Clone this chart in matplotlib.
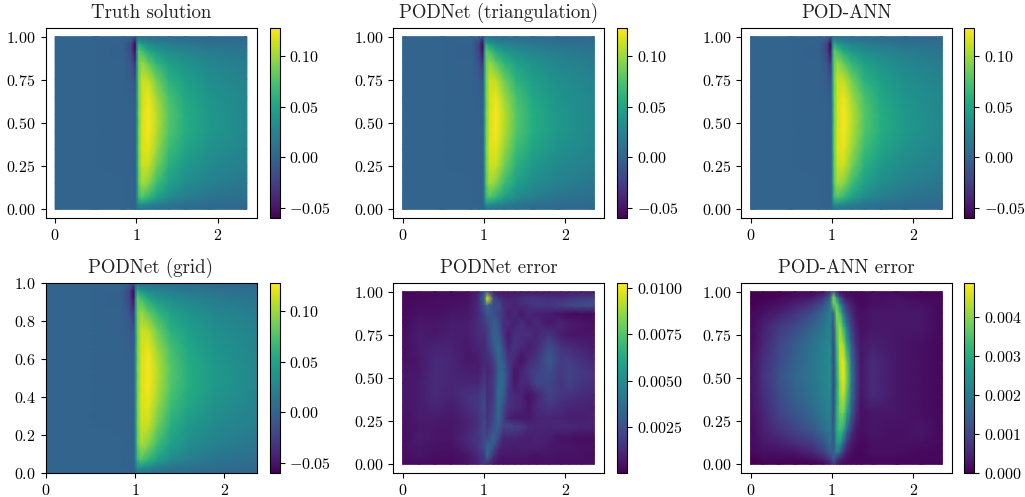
import numpy as np
import matplotlib
matplotlib.use("Agg")
import matplotlib.pyplot as plt

plt.rcParams["font.family"] = ["cmr10", "DejaVu Serif"]
plt.rcParams["mathtext.fontset"] = "cm"
plt.rcParams["axes.formatter.use_mathtext"] = True
plt.rcParams["axes.unicode_minus"] = False

# solution field
sol_x = [0, 0.5, 0.85, 0.94, 0.985, 1.005, 1.03, 1.07, 1.15, 1.25, 1.4, 1.6, 1.9, 2.36]
sol_y = [0, 0.03, 0.07, 0.15, 0.25, 0.35, 0.45, 0.55, 0.65, 0.75, 0.85, 0.92, 0.96, 1.0]
sol_rows = [
    [0, 0, 0, 0, 0, 0.004, 0.008, 0.01, 0.01, 0.008, 0.006, 0.005, 0.003, 0.002],
    [0, 0, 0, -0.001, -0.002, 0.012, 0.035, 0.035, 0.028, 0.02, 0.014, 0.01, 0.007, 0.004],
    [0, 0, 0, -0.001, -0.003, 0.02, 0.065, 0.075, 0.062, 0.046, 0.03, 0.02, 0.012, 0.008],
    [0, 0, 0, -0.001, -0.003, 0.025, 0.08, 0.102, 0.092, 0.068, 0.046, 0.032, 0.022, 0.014],
    [0, 0, -0.001, -0.002, -0.003, 0.028, 0.085, 0.112, 0.112, 0.086, 0.058, 0.041, 0.028, 0.02],
    [0, 0, -0.001, -0.002, -0.004, 0.03, 0.088, 0.116, 0.12, 0.098, 0.068, 0.05, 0.034, 0.024],
    [0, 0, -0.001, -0.002, -0.004, 0.03, 0.088, 0.116, 0.125, 0.106, 0.076, 0.056, 0.04, 0.027],
    [0, 0, -0.001, -0.002, -0.005, 0.03, 0.088, 0.115, 0.126, 0.108, 0.078, 0.056, 0.04, 0.027],
    [0, 0, -0.001, -0.003, -0.007, 0.03, 0.088, 0.114, 0.122, 0.1, 0.072, 0.052, 0.037, 0.026],
    [0, 0, -0.002, -0.006, -0.014, 0.03, 0.088, 0.112, 0.11, 0.086, 0.06, 0.045, 0.032, 0.023],
    [0, 0, -0.002, -0.012, -0.035, 0.03, 0.085, 0.098, 0.08, 0.062, 0.046, 0.036, 0.026, 0.018],
    [0, 0, -0.003, -0.022, -0.055, 0.02, 0.08, 0.07, 0.05, 0.038, 0.03, 0.024, 0.017, 0.012],
    [0, 0, -0.002, -0.02, -0.058, 0.01, 0.055, 0.04, 0.03, 0.024, 0.019, 0.015, 0.011, 0.008],
    [0, 0, 0, -0.002, -0.012, 0, 0.006, 0.006, 0.006, 0.005, 0.004, 0.003, 0.002, 0.001],
]

# PODNet error, units of 1e-4
net_x = [0, 0.2, 0.4, 0.6, 0.8, 0.93, 1.01, 1.04, 1.12, 1.18, 1.24, 1.3, 1.38, 1.46, 1.55, 1.65, 1.8, 1.95, 2.05, 2.2, 2.36]
net_y = [0, 0.05, 0.1, 0.15, 0.22, 0.27, 0.33, 0.4, 0.47, 0.54, 0.61, 0.68, 0.75, 0.82, 0.87, 0.92, 0.96, 1.0]
net_rows = [
    [3, 3, 3, 3, 5, 10, 16, 12, 6, 5, 4, 4, 4, 4, 4, 4, 4, 4, 4, 4, 4],
    [4, 6, 4, 4, 6, 12, 18, 34, 14, 8, 6, 6, 6, 6, 6, 5, 6, 5, 5, 5, 4],
    [5, 7, 5, 5, 10, 16, 24, 34, 26, 12, 9, 9, 8, 9, 9, 9, 7, 6, 6, 5, 5],
    [4, 8, 6, 6, 12, 16, 22, 22, 32, 22, 10, 10, 10, 9, 8, 10, 8, 5, 5, 4, 4],
    [5, 7, 7, 6, 10, 15, 24, 16, 26, 30, 20, 22, 20, 18, 12, 11, 11, 12, 12, 10, 10],
    [5, 8, 8, 7, 10, 15, 22, 14, 22, 34, 20, 10, 7, 7, 7, 10, 11, 10, 9, 9, 10],
    [6, 8, 11, 8, 13, 17, 24, 14, 20, 36, 24, 14, 12, 11, 6, 12, 16, 13, 11, 10, 9],
    [6, 8, 12, 10, 15, 16, 22, 12, 18, 36, 30, 16, 12, 10, 5, 10, 20, 16, 15, 13, 11],
    [6, 8, 13, 11, 11, 11, 18, 12, 18, 34, 34, 18, 7, 12, 13, 22, 22, 16, 20, 16, 14],
    [6, 7, 13, 11, 9, 8, 14, 10, 16, 32, 34, 20, 6, 10, 16, 20, 25, 17, 21, 17, 15],
    [5, 7, 12, 11, 7, 8, 12, 12, 20, 34, 28, 16, 12, 5, 12, 16, 28, 18, 18, 14, 11],
    [4, 8, 10, 10, 7, 11, 12, 16, 28, 36, 22, 10, 16, 12, 8, 12, 24, 15, 13, 10, 8],
    [4, 8, 7, 9, 8, 13, 14, 18, 32, 30, 16, 7, 15, 14, 14, 11, 16, 9, 7, 6, 6],
    [3, 7, 6, 8, 8, 13, 18, 20, 30, 26, 14, 14, 8, 14, 8, 12, 7, 10, 8, 6, 5],
    [3, 5, 5, 6, 7, 12, 22, 28, 26, 20, 16, 8, 13, 7, 11, 9, 8, 5, 3, 3, 3],
    [3, 4, 4, 5, 6, 12, 26, 34, 22, 26, 14, 12, 10, 12, 14, 16, 16, 20, 22, 24, 24],
    [3, 3, 4, 4, 5, 12, 40, 100, 24, 16, 12, 10, 12, 14, 16, 16, 14, 14, 16, 18, 20],
    [2, 3, 3, 3, 4, 8, 26, 28, 10, 6, 6, 6, 6, 7, 7, 7, 7, 8, 8, 8, 8],
]

# POD-ANN error, units of 1e-4
ann_x = [0, 0.15, 0.35, 0.55, 0.75, 0.9, 0.98, 1.02, 1.06, 1.1, 1.14, 1.18, 1.24, 1.3, 1.36, 1.5, 1.8, 2.1, 2.36]
ann_y = [0, 0.03, 0.07, 0.12, 0.2, 0.3, 0.4, 0.5, 0.6, 0.7, 0.8, 0.88, 0.93, 0.97, 1.0]
ann_rows = [
    [0, 0, 0, 0, 0, 1, 3, 8, 4, 2, 1, 1, 1, 1, 1, 1, 1, 1, 0],
    [0, 1, 1, 1, 2, 4, 8, 14, 8, 5, 3, 2, 1, 1, 1, 1, 1, 1, 1],
    [1, 2, 2, 3, 5, 9, 14, 14, 20, 15, 8, 4, 2, 1, 1, 2, 2, 1, 1],
    [1, 3, 4, 6, 8, 12, 17, 12, 26, 26, 15, 8, 3, 2, 1, 2, 2, 2, 1],
    [1, 4, 7, 10, 13, 17, 20, 12, 30, 34, 30, 18, 8, 3, 2, 3, 2, 3, 1],
    [2, 5, 10, 13, 16, 20, 22, 10, 30, 38, 39, 30, 14, 6, 2, 3, 3, 2, 1],
    [2, 6, 11, 15, 18, 21, 23, 10, 28, 40, 44, 36, 18, 8, 3, 6, 3, 2, 1],
    [2, 7, 12, 16, 19, 22, 24, 10, 28, 42, 47, 40, 20, 9, 3, 6, 3, 2, 1],
    [2, 6, 11, 15, 19, 22, 24, 10, 30, 44, 47, 38, 18, 8, 3, 6, 3, 2, 1],
    [1, 5, 10, 14, 18, 21, 23, 10, 32, 44, 42, 30, 14, 6, 3, 4, 3, 2, 1],
    [1, 4, 8, 11, 15, 19, 22, 11, 36, 42, 32, 20, 9, 4, 2, 3, 3, 3, 1],
    [1, 2, 4, 7, 11, 16, 21, 16, 40, 34, 20, 12, 6, 3, 2, 3, 3, 3, 1],
    [0, 1, 2, 4, 7, 12, 19, 38, 36, 22, 12, 7, 4, 2, 1, 2, 3, 2, 1],
    [0, 0, 1, 2, 3, 7, 14, 40, 22, 11, 6, 3, 2, 1, 1, 2, 2, 1, 1],
    [0, 0, 0, 1, 1, 2, 8, 14, 5, 2, 1, 1, 1, 1, 1, 1, 1, 1, 0],
]

titles = ["Truth solution", "PODNet (triangulation)", "POD-ANN",
          "PODNet (grid)", "PODNet error", "POD-ANN error"]

sol_ticks = [-0.05, 0.0, 0.05, 0.10]
sol_labels = ["$-0.05$", "$0.00$", "$0.05$", "$0.10$"]
net_ticks = [0.0025, 0.0050, 0.0075, 0.0100]
net_labels = ["$0.0025$", "$0.0050$", "$0.0075$", "$0.0100$"]
ann_ticks = [0.0, 0.001, 0.002, 0.003, 0.004]
ann_labels = ["$0.000$", "$0.001$", "$0.002$", "$0.003$", "$0.004$"]

x_ticks = [0, 1, 2]
y_ticks = [0, 0.25, 0.5, 0.75, 1.0]
y_labels = ["$0.00$", "$0.25$", "$0.50$", "$0.75$", "$1.00$"]
grid_y_ticks = [0, 0.2, 0.4, 0.6, 0.8, 1.0]
grid_y_labels = ["$0.0$", "$0.2$", "$0.4$", "$0.6$", "$0.8$", "$1.0$"]

sol = np.array(sol_rows)
net = np.array(net_rows) * 1e-4
ann = np.array(ann_rows) * 1e-4

W, H = 1025, 497
fig = plt.figure(figsize=(W / 100, H / 100), dpi=100)

def box(x0, x1, y0, y1):
    return [x0 / W, 1 - y1 / H, (x1 - x0) / W, (y1 - y0) / H]

lefts = [45.5, 393, 741]
cb_lefts = [269.5, 617, 964]
rows_y = [(28, 218), (283, 473)]

panels = [
    (sol_x, sol_y, sol, -0.06, 0.1276, sol_ticks, sol_labels),
    (sol_x, sol_y, sol, -0.06, 0.1276, sol_ticks, sol_labels),
    (sol_x, sol_y, sol, -0.06, 0.1276, sol_ticks, sol_labels),
    (sol_x, sol_y, sol, -0.06, 0.1276, sol_ticks, sol_labels),
    (net_x, net_y, net, 0.00002, 0.01027, net_ticks, net_labels),
    (ann_x, ann_y, ann, 0.0, 0.00487, ann_ticks, ann_labels),
]

for i, (px, py, z, vmin, vmax, cticks, clabels) in enumerate(panels):
    r, c = divmod(i, 3)
    y0, y1 = rows_y[r]
    ax = fig.add_axes(box(lefts[c], lefts[c] + 211, y0, y1))
    m = ax.pcolormesh(px, py, z, shading="gouraud", cmap="viridis", vmin=vmin, vmax=vmax)
    ax.set_title(titles[i], fontsize=13.6, pad=7, color="#222222")
    ax.set_xticks(x_ticks, ["$0$", "$1$", "$2$"], fontsize=11.5)
    if i == 3:
        ax.set_xlim(0, 2.36)
        ax.set_ylim(0, 1)
        ax.set_yticks(grid_y_ticks, grid_y_labels, fontsize=11.5)
    else:
        ax.set_xlim(-0.118, 2.478)
        ax.set_ylim(-0.05, 1.05)
        ax.set_yticks(y_ticks, y_labels, fontsize=11.5)
    cax = fig.add_axes(box(cb_lefts[c], cb_lefts[c] + 10, y0, y1))
    cb = fig.colorbar(m, cax=cax)
    cb.set_ticks(cticks, labels=clabels, fontsize=11.5)
    cb.minorticks_off()

fig.savefig("out.png", dpi=100)
